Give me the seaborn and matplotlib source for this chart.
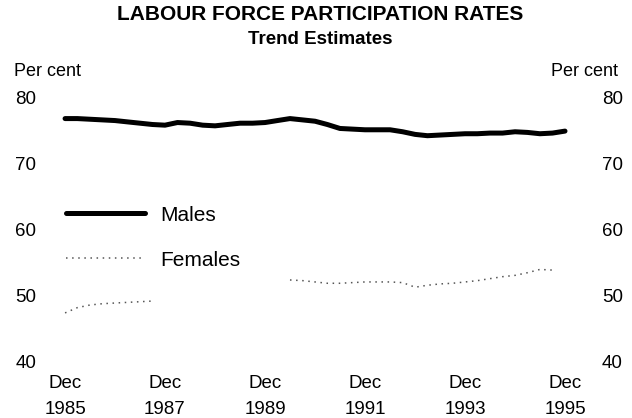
import numpy as np
import pandas as pd
import seaborn as sns
import matplotlib.pyplot as plt
from matplotlib.lines import Line2D

# quarterly trend estimates, Dec 1985 - Dec 1995
dates = pd.date_range("1985-12-01", periods=41, freq="3MS")

males = [
    76.8, 76.8, 76.7, 76.6, 76.5, 76.3, 76.1, 75.9, 75.8, 76.2,
    76.1, 75.8, 75.7, 75.9, 76.1, 76.1, 76.2, 76.5, 76.8, 76.6,
    76.4, 75.9, 75.3, 75.2, 75.1, 75.1, 75.1, 74.8, 74.4, 74.2,
    74.3, 74.4, 74.5, 74.5, 74.6, 74.6, 74.8, 74.7, 74.5, 74.6,
    74.9,
]

# gap where the trace is missing in the source
females = [
    47.3, 48.1, 48.5, 48.7, 48.8, 48.9, 49.0, 49.1,
    np.nan, np.nan, np.nan, np.nan, np.nan,
    np.nan, np.nan, np.nan, np.nan, np.nan,
    52.3, 52.2, 52.0, 51.8, 51.8, 51.9, 52.0, 52.0, 52.0, 51.9,
    51.2, 51.5, 51.7, 51.8, 52.0, 52.2, 52.5, 52.8, 53.0, 53.4,
    53.9, 53.8, np.nan,
]

tick_years = [1985, 1987, 1989, 1991, 1993, 1995]
y_ticks = [40, 50, 60, 70, 80]

MALE_KW = dict(color="black", linewidth=3.6)
FEMALE_KW = dict(color="#555555", linewidth=1.1, linestyle=(0, (1, 3)))

sns.set_theme(style="white")
plt.rcParams["font.family"] = ["Liberation Sans", "DejaVu Sans"]
plt.rcParams["text.color"] = "black"
plt.rcParams["xtick.color"] = "black"
plt.rcParams["ytick.color"] = "black"

df_m = pd.DataFrame({"date": dates, "rate": males})
df_f = pd.DataFrame({"date": dates, "rate": females})
df_f["seg"] = df_f["rate"].isna().cumsum()
df_f = df_f.dropna()

fig = plt.figure(figsize=(6.32, 4.18), dpi=100)
ax = fig.add_axes([50 / 632, 1 - 361 / 418, 538 / 632, 263.5 / 418])

sns.lineplot(data=df_m, x="date", y="rate", ax=ax, legend=False, **MALE_KW)
sns.lineplot(data=df_f, x="date", y="rate", units="seg", estimator=None,
             ax=ax, legend=False, **FEMALE_KW)

ax.set_ylim(40, 80)
ax.set_xlim(pd.Timestamp("1985-08-13"), pd.Timestamp("1996-05-17"))
ax.set_yticks(y_ticks)
ax.set_xticks([pd.Timestamp(f"{y}-12-01") for y in tick_years])
ax.set_xticklabels([f"Dec\n{y}" for y in tick_years], linespacing=1.7)
ax.set_xlabel("")
ax.set_ylabel("")
ax.tick_params(axis="both", length=0, labelsize=13.5)
ax.tick_params(axis="x", pad=10)
ax.tick_params(axis="y", pad=10, labelright=True, right=False)
for t in ax.yaxis.get_major_ticks():
    t.label2.set_horizontalalignment("left")
    t.set_pad(10)
sns.despine(ax=ax, left=True, bottom=True)

handles = [Line2D([], [], **MALE_KW), Line2D([], [], **FEMALE_KW)]
ax.legend(handles, ["Males", "Females"], loc="upper left",
          bbox_to_anchor=(0.03, 0.59), frameon=False, fontsize=15,
          handlelength=3.8, handletextpad=0.7, borderaxespad=0,
          borderpad=0, labelspacing=1.25)

fig.text(320 / 632, 1 - 15 / 418, "LABOUR FORCE PARTICIPATION RATES",
         ha="center", va="center", fontsize=15, fontweight="bold")
fig.text(320 / 632, 1 - 39 / 418, "Trend Estimates",
         ha="center", va="center", fontsize=13.5, fontweight="bold")
fig.text(14 / 632, 1 - 71 / 418, "Per cent", ha="left", va="center", fontsize=13)
fig.text(618 / 632, 1 - 71 / 418, "Per cent", ha="right", va="center", fontsize=13)

fig.savefig("out.png", dpi=100)
